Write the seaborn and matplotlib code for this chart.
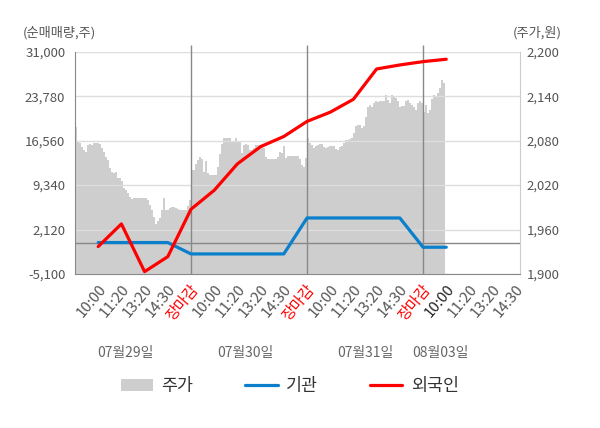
import numpy as np
import pandas as pd
import matplotlib
matplotlib.use("Agg")
import matplotlib.pyplot as plt
from matplotlib.patches import Patch
from matplotlib.lines import Line2D
import seaborn as sns

# categories
days = ["07월29일", "07월30일", "07월31일", "08월03일"]
times = ["10:00", "11:20", "13:20", "14:30", "장마감"]

# net buying (주) per time slot, from 07/29 10:00 to 08/03 10:00
institution = [0, 0, 0, 0, -1850, -1850, -1850, -1850, -1850,
               4000, 4000, 4000, 4000, 4000, -760, -760]
foreign = [-650, 3030, -4730, -2290, 5420, 8500, 12800, 15600, 17250,
           19700, 21200, 23300, 28230, 28880, 29420, 29810]

# stock price (원), evenly sampled through each session
price_0729 = [2099, 2079, 2077, 2072, 2068, 2065, 2074, 2075, 2074, 2077,
              2077, 2077, 2076, 2070, 2065, 2058, 2054, 2043, 2038, 2037,
              2038, 2029, 2029, 2025, 2016, 2014, 2009, 2004, 2001, 2002,
              2003, 2003, 2003, 2003, 2003, 2002, 2000, 1993, 1986, 1977,
              1968, 1971, 1975, 1986, 2003, 1986, 1987, 1989, 1990, 1990,
              1989, 1988, 1987, 1986, 1986, 1986, 1992, 2000]
price_0730 = [2040, 2040, 2048, 2054, 2058, 2055, 2038, 2052, 2036, 2034,
              2034, 2034, 2034, 2045, 2062, 2075, 2083, 2083, 2083, 2083,
              2080, 2079, 2083, 2079, 2078, 2063, 2074, 2076, 2074, 2068,
              2067, 2070, 2074, 2074, 2074, 2074, 2070, 2058, 2055, 2055,
              2055, 2055, 2055, 2058, 2065, 2063, 2073, 2056, 2060, 2060,
              2060, 2060, 2060, 2059, 2055, 2047, 2045, 2056]
price_0731 = [2083, 2077, 2074, 2070, 2073, 2074, 2076, 2076, 2072, 2070,
              2071, 2073, 2073, 2073, 2069, 2068, 2071, 2073, 2077, 2081,
              2081, 2082, 2083, 2090, 2100, 2101, 2101, 2097, 2100, 2112,
              2126, 2128, 2126, 2131, 2133, 2132, 2133, 2133, 2133, 2142,
              2135, 2131, 2142, 2139, 2138, 2133, 2126, 2127, 2127, 2133,
              2135, 2131, 2128, 2126, 2122, 2131, 2133, 2131]
price_0803 = [2119, 2128, 2117, 2122, 2137, 2142, 2140, 2144, 2151, 2162,
              2158, 2158]
samples_per_day = 58

left_ticks = [-5100, 2120, 9340, 16560, 23780, 31000]
right_ticks = [1900, 1960, 2020, 2080, 2140, 2200]

# build tables
slots = len(times)
flows = pd.DataFrame({"slot": np.arange(1, len(foreign) + 1),
                      "기관": institution, "외국인": foreign})
price_days = [price_0729, price_0730, price_0731, price_0803]
px, py = [], []
for d, vals in enumerate(price_days):
    px += list(d * slots + np.arange(len(vals)) * slots / samples_per_day)
    py += vals
prices = pd.DataFrame({"x": px, "주가": py})

tick_labels = (times * len(days))[:-1]

sns.set_style("white")
plt.rcParams["font.family"] = ["Noto Sans CJK KR", "DejaVu Sans"]

fig = plt.figure(figsize=(6, 4.28), dpi=100)
ax = fig.add_axes([0.125, 0.36, 0.7417, 0.5187])
ax2 = ax.twinx()
ax.set_zorder(2)
ax2.set_zorder(1)
ax.patch.set_visible(False)
ax2.set_facecolor("#f4f4f4")

# price area
ax2.fill_between(prices["x"], 1900, prices["주가"], step="post",
                 color="#cecece", lw=0)
ax2.set_ylim(1900, 2200)
ax2.set_yticks(right_ticks)
ax2.set_yticklabels([f"{v:,}" for v in right_ticks])

# flow lines
sns.lineplot(data=flows, x="slot", y="기관", ax=ax, color="#0a80cc",
             lw=2.3, zorder=4, legend=False)
sns.lineplot(data=flows, x="slot", y="외국인", ax=ax, color="#ff0000",
             lw=2.3, zorder=5, legend=False)
ax.set_ylim(left_ticks[0], left_ticks[-1])
ax.set_yticks(left_ticks)
ax.set_yticklabels([f"{v:,}" for v in left_ticks])
ax.grid(axis="y", color="#dddddd", lw=1)
ax.grid(axis="x", visible=False)
ax.axhline(0, color="#888888", lw=1, zorder=2)
ax.vlines([slots * (d + 1) for d in range(len(days) - 1)], 0, 1.03,
          transform=ax.get_xaxis_transform(), colors="#888888", lw=1,
          clip_on=False, zorder=1.5)

ax.set_xlim(0, 19.18)
ax.set_xticks(np.arange(1, len(tick_labels) + 1))
ax.set_xticklabels(tick_labels, rotation=50, ha="right",
                   rotation_mode="anchor", fontsize=10.8)
ax.set_xticks([slots * d for d in range(len(days))], minor=True)
ax.tick_params(axis="x", which="major", length=0, pad=6)
ax.tick_params(axis="x", which="minor", length=4, color="#888888")
for i, lab in enumerate(ax.get_xticklabels()):
    if tick_labels[i] == "장마감":
        lab.set_color("#ff0000")
    elif i == 15:
        lab.set_color("#222222")
    else:
        lab.set_color("#555555")
ax.set_xlabel("")
ax.set_ylabel("")
ax2.set_ylabel("")
ax.tick_params(axis="y", length=0, pad=7, labelsize=9.5, labelcolor="#555555")
ax2.tick_params(axis="y", length=0, pad=5, labelsize=9.5, labelcolor="#555555")

for s in ["top", "right"]:
    ax.spines[s].set_visible(False)
for s in ["top", "left", "bottom"]:
    ax2.spines[s].set_visible(False)
ax.spines["left"].set_color("#888888")
ax.spines["bottom"].set_color("#888888")
ax2.spines["right"].set_color("#cccccc")

fig.text(23 / 600, 1 - 33 / 428, "(순매매량,주)", ha="left", va="center",
         fontsize=9.5, color="#555555")
fig.text(562 / 600, 1 - 33 / 428, "(주가,원)", ha="right", va="center",
         fontsize=9.5, color="#555555")

# day labels under the time ticks
day_centres = [125, 245, 365, 440]
for name, cx in zip(days, day_centres):
    fig.text(cx / 600, 1 - 353 / 428, name, ha="center", va="center",
             fontsize=10, color="#666666")

handles = [Patch(facecolor="#cecece", edgecolor="none"),
           Line2D([], [], color="#0a80cc", lw=2.3),
           Line2D([], [], color="#ff0000", lw=2.3)]
fig.legend(handles, ["주가", "기관", "외국인"], loc="center",
           bbox_to_anchor=(0.483, 1 - 386 / 428), ncol=3, frameon=False,
           fontsize=12.5, handlelength=1.85, handletextpad=0.5,
           columnspacing=3.0, labelcolor="#333333")

fig.savefig("out.png", dpi=100)
